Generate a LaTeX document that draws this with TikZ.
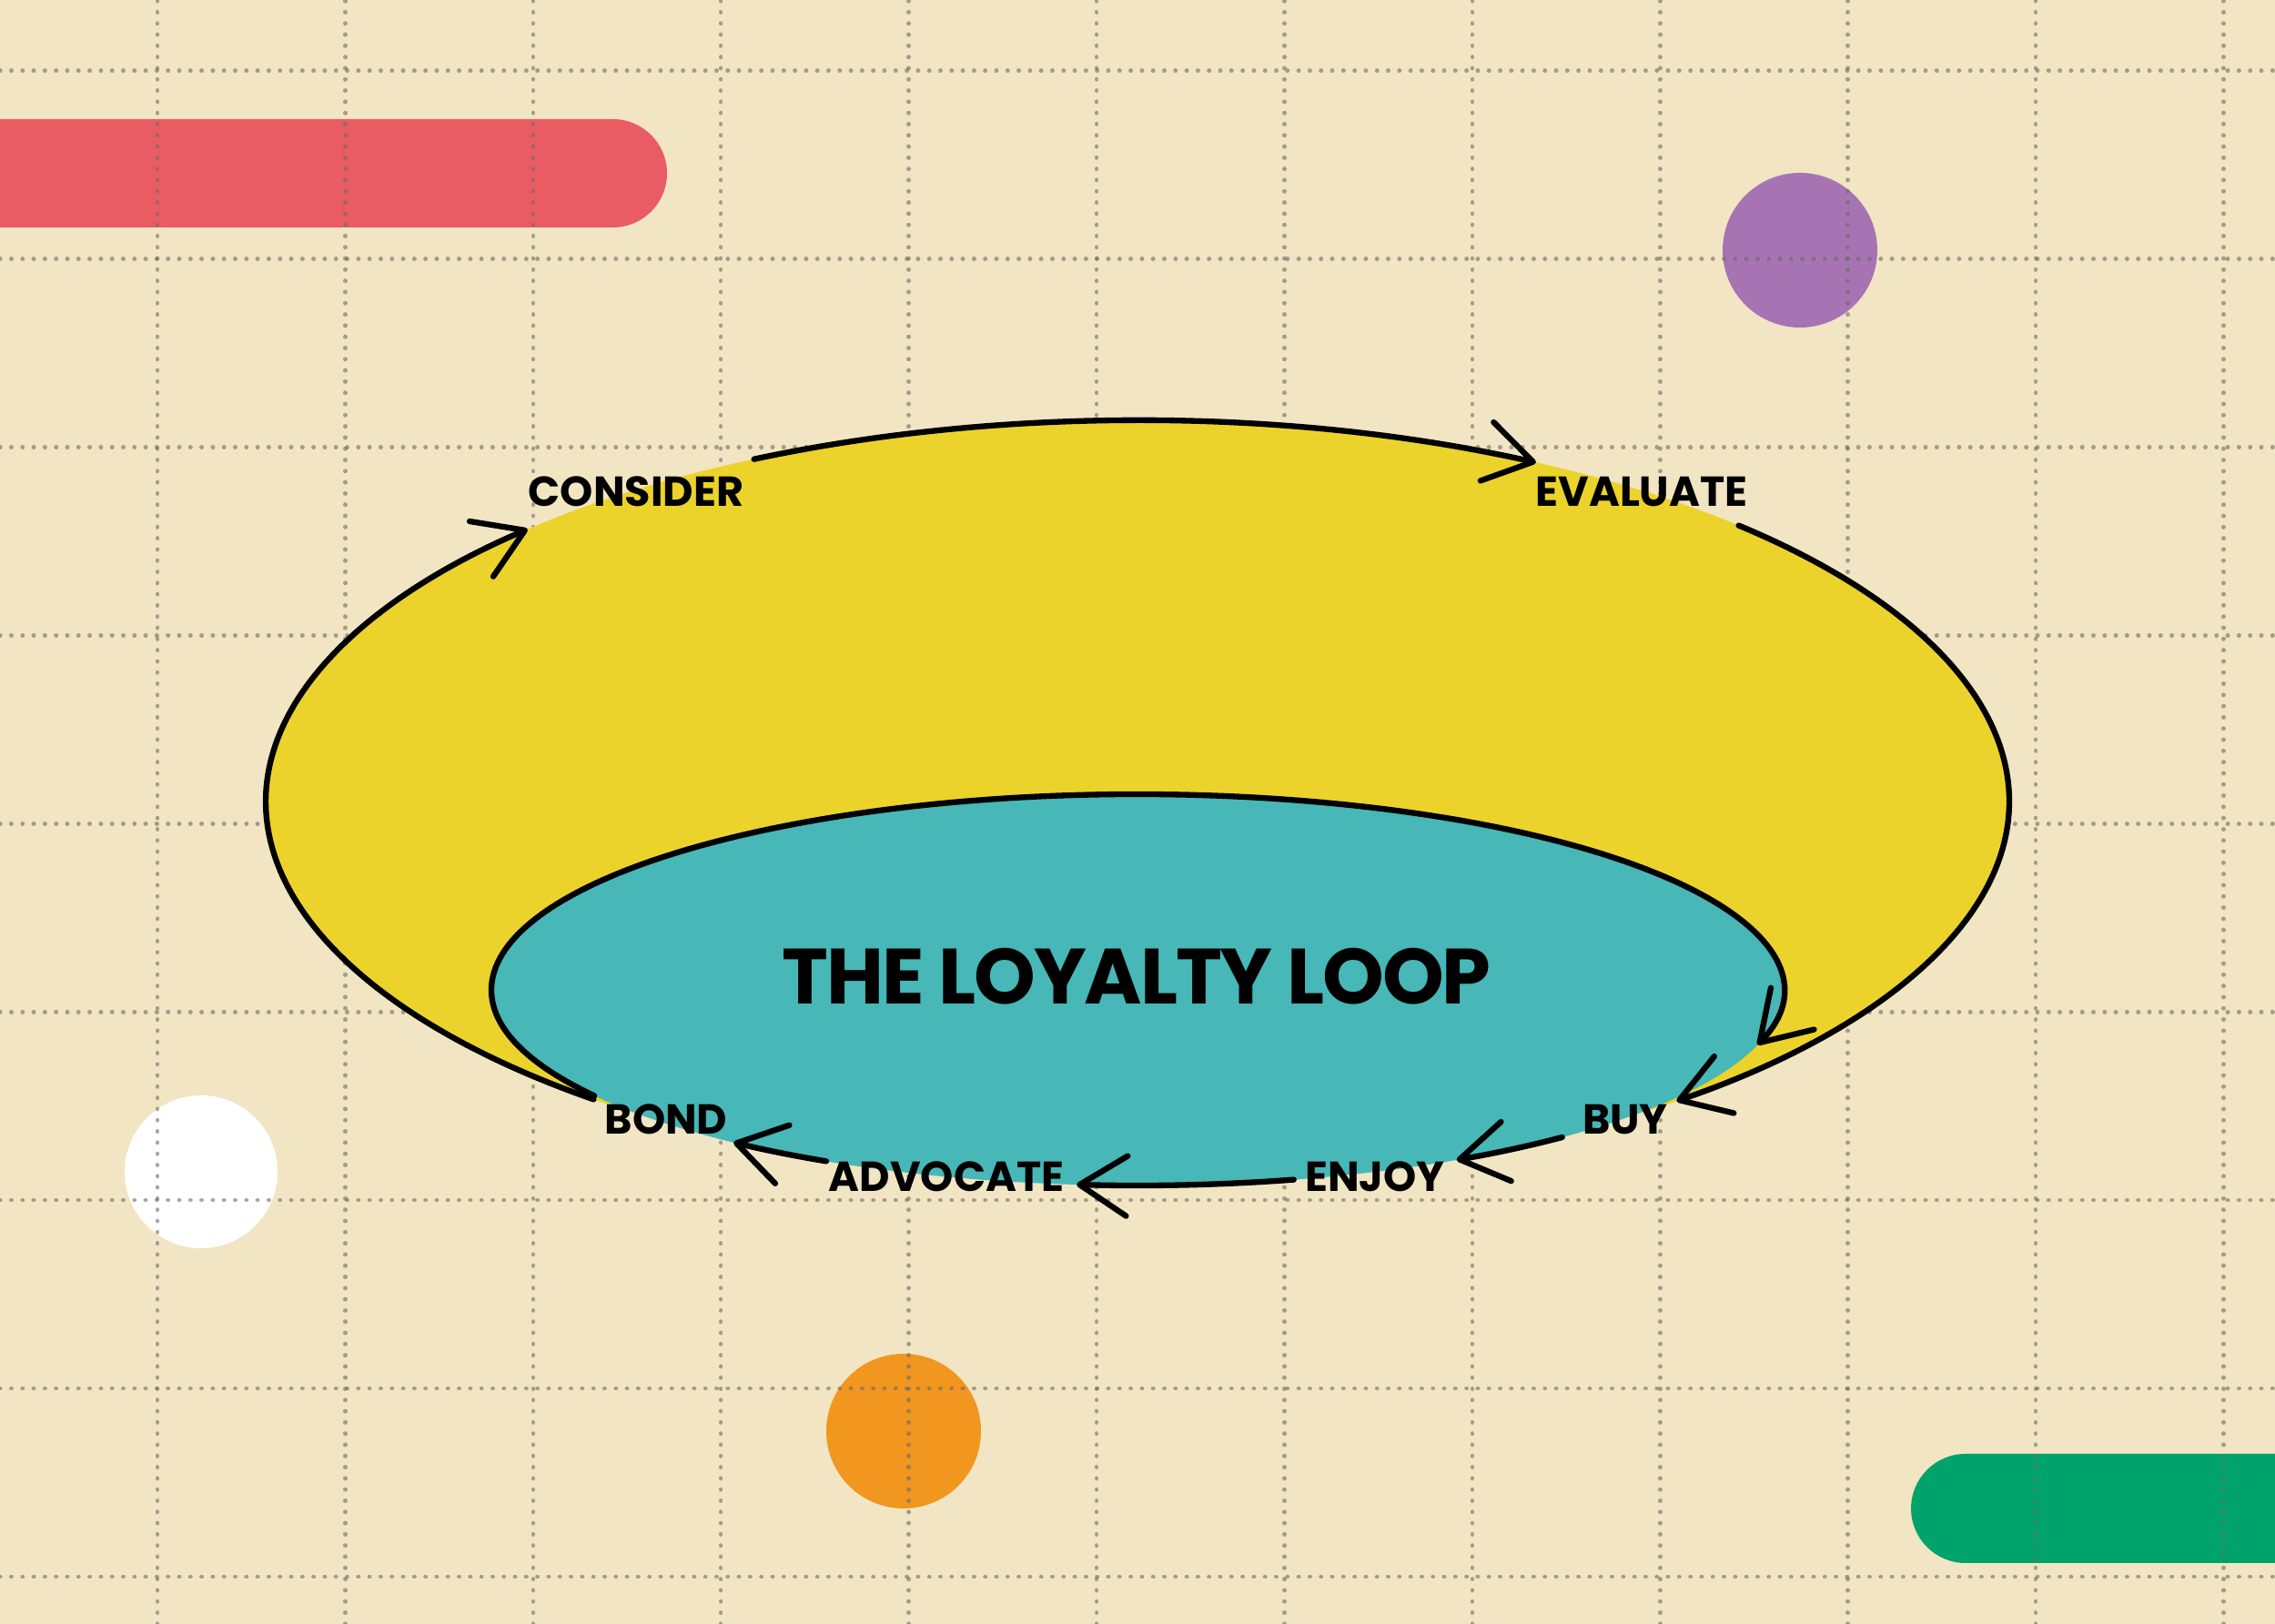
\documentclass[tikz,border=0pt]{standalone}
\usepackage{fontspec}
\setmainfont{Poppins}
\usepackage{tikz}
\usetikzlibrary{arrows.meta}

\definecolor{paper}{HTML}{F1E5C3}
\definecolor{gridgray}{RGB}{110,108,100}
\definecolor{pillred}{HTML}{E95C63}
\definecolor{pillgreen}{HTML}{00A36B}
\definecolor{dotpurple}{HTML}{A674B3}
\definecolor{dotorange}{HTML}{F1961F}
\definecolor{loopyellow}{HTML}{ECD32B}
\definecolor{loopteal}{HTML}{47B7B7}

\begin{document}
\begin{tikzpicture}[
    gridline/.style={draw=gridgray, opacity=0.6, line width=1.3pt, line cap=round, dash pattern=on 0.1pt off 3.4pt},
    loopline/.style={line width=1.8pt, line cap=round, -{Straight Barb[length=5.2mm, width=6.6mm, round]}},
    stagelabel/.style={font=\bfseries\fontsize{13.1}{15}\selectfont, inner sep=0pt, anchor=base},
    titlelabel/.style={font=\bfseries\fontsize{24.5}{28}\selectfont\addfontfeatures{LetterSpace=-2.5}, inner sep=0pt, anchor=base}
  ]
      \useasboundingbox (0,0) rectangle (25,17.85);
      \clip (0,0) rectangle (25,17.85);
      \fill[paper] (0,0) rectangle (25,17.85);

      \fill[pillred, rounded corners=0.595cm] (-1,15.35) rectangle (7.33,16.54);
      \fill[pillgreen, rounded corners=0.6cm] (21.00,0.67) rectangle (26,1.87);
      \fill[dotpurple] (19.78,15.10) circle (0.85);
      \fill[white] (2.21,4.97) circle (0.84);
      \fill[dotorange] (9.93,2.12) circle (0.85);

      \foreach \i in {0,...,11} {
        \draw[gridline] (1.73+\i*2.064,0) -- ++(0,17.85);
      }
      \foreach \j in {0,...,8} {
        \draw[gridline] (0,0.52+\j*2.069) -- ++(25,0);
      }

      \coordinate (yc) at (12.50,9.04);
      \coordinate (tc) at (12.50,6.97);
      \fill[loopyellow] (yc) ellipse [x radius=9.58, y radius=4.19];
      \fill[loopteal] (tc) ellipse [x radius=7.10, y radius=2.15];

      \draw[loopline] (yc) ++(231.4:9.58cm and 4.19cm) arc[start angle=231.4, end angle=134.4, x radius=9.58, y radius=4.19];
      \draw[loopline] (yc) ++(116.1:9.58cm and 4.19cm) arc[start angle=116.1, end angle=62.8, x radius=9.58, y radius=4.19];
      \draw[loopline] (yc) ++(46.4:9.58cm and 4.19cm) arc[start angle=46.4, end angle=-51.8, x radius=9.58, y radius=4.19];
      \draw[loopline] (tc) ++(212.8:7.10cm and 2.15cm) arc[start angle=212.8, end angle=-16.3, x radius=7.10, y radius=2.15];
      \draw[loopline] (tc) ++(-48.9:7.10cm and 2.15cm) arc[start angle=-48.9, end angle=-60.4, x radius=7.10, y radius=2.15];
      \draw[loopline] (tc) ++(-76.0:7.10cm and 2.15cm) arc[start angle=-76.0, end angle=-95.4, x radius=7.10, y radius=2.15];
      \draw[loopline] (tc) ++(-118.8:7.10cm and 2.15cm) arc[start angle=-118.8, end angle=-128.7, x radius=7.10, y radius=2.15];

      \node[stagelabel] (consider) at (6.99,12.28) {CONSIDER};
      \node[stagelabel] (evaluate) at (18.04,12.28) {EVALUATE};
      \node[stagelabel] (buy) at (17.86,5.38) {BUY};
      \node[stagelabel] (enjoy) at (15.11,4.75) {ENJOY};
      \node[stagelabel] (advocate) at (10.40,4.75) {ADVOCATE};
      \node[stagelabel] (bond) at (7.32,5.38) {BOND};
      \node[titlelabel] (title) at (12.49,6.81) {THE LOYALTY LOOP};
    \end{tikzpicture}
\end{document}
